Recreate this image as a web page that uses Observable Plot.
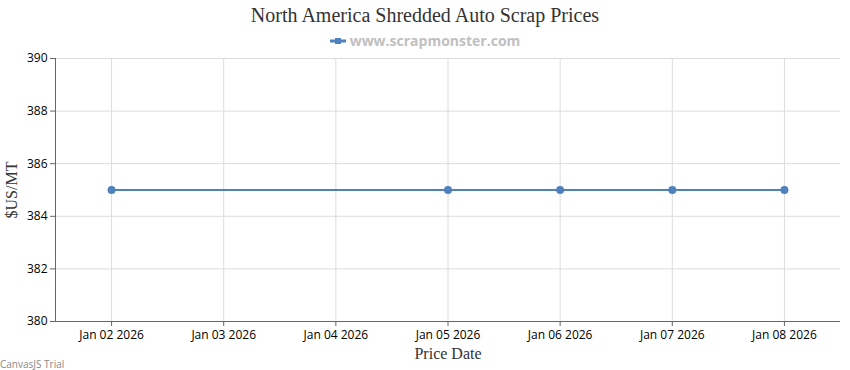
<!DOCTYPE html>
<html>
<head>
<meta charset="utf-8">
<script src="https://cdn.jsdelivr.net/npm/d3@7"></script>
<script src="https://cdn.jsdelivr.net/npm/@observablehq/plot@0.6"></script>
<style>
  html, body { margin: 0; padding: 0; background: #fff; }
  #wrap { position: relative; width: 850px; height: 370px; overflow: hidden; }
  .t { position: absolute; white-space: nowrap; }
  #title { left: 0; width: 850px; top: 4px; text-align: center; font: 20px "Liberation Serif", "Times New Roman", serif; color: #333; }
  #legend { left: 0; width: 850px; top: 31px; text-align: center; font: bold 14px "Open Sans", sans-serif; color: #c0c0c0; }
  #legend svg { vertical-align: middle; margin-right: 4px; position: relative; top: -1px; }
  #ylab { left: 12px; top: 190px; transform: translate(-50%, -50%) rotate(-90deg); font: 16px "Liberation Serif", "Times New Roman", serif; color: #333; }
  #xlab { left: 448px; top: 345px; transform: translateX(-50%); font: 16px "Liberation Serif", "Times New Roman", serif; color: #333; }
  #trial { left: 0px; top: 357px; font: 10px "Open Sans", sans-serif; color: #888; }
</style>
</head>
<body>
<div id="wrap"></div>
<script>
const dates = ["2026-01-02", "2026-01-05", "2026-01-06", "2026-01-07", "2026-01-08"];
const prices = [385, 385, 385, 385, 385];
const xTickDates = ["2026-01-02", "2026-01-03", "2026-01-04", "2026-01-05", "2026-01-06", "2026-01-07", "2026-01-08"];
const yTicks = [380, 382, 384, 386, 388, 390];
const seriesName = "www.scrapmonster.com";
const titleText = "North America Shredded Auto Scrap Prices";
const yLabel = "$US/MT";
const xLabel = "Price Date";

const parse = d3.utcParse("%Y-%m-%d");
const data = dates.map((d, i) => ({date: parse(d), price: prices[i]}));
const xt = xTickDates.map(parse);
const half = 12 * 3600 * 1000;
const xDomain = [new Date(xt[0].getTime() - half), new Date(xt[xt.length - 1].getTime() + half)];
const fmt = d3.utcFormat("%b %d %Y");
const color = "#4f81bc";

const chart = Plot.plot({
  width: 850,
  height: 370,
  marginTop: 58,
  marginBottom: 49,
  marginLeft: 55,
  marginRight: 10,
  style: {fontFamily: "'Open Sans', sans-serif", fontSize: "12px", color: "#000", background: "transparent"},
  x: {type: "utc", domain: xDomain},
  y: {domain: [380, 390]},
  marks: [
    Plot.gridX(xt, {stroke: "#dcdcdc", strokeOpacity: 1}),
    Plot.gridY(yTicks, {stroke: "#dcdcdc", strokeOpacity: 1}),
    Plot.axisY(yTicks, {tickSize: 5, tickPadding: 3, stroke: "#666", label: null, fontSize: 12}),
    Plot.axisX(xt, {tickSize: 5, tickPadding: 4, stroke: "#666", tickFormat: fmt, label: null, fontSize: 12}),
    Plot.ruleX([xDomain[0]], {stroke: "#666", strokeWidth: 1}),
    Plot.ruleY([380], {stroke: "#666", strokeWidth: 1}),
    Plot.line(data, {x: "date", y: "price", stroke: color, strokeWidth: 2}),
    Plot.dot(data, {x: "date", y: "price", fill: color, r: 4})
  ]
});

const wrap = document.getElementById("wrap");
wrap.appendChild(chart);
const add = (id, html) => { const d = document.createElement("div"); d.id = id; d.className = "t"; d.innerHTML = html; wrap.appendChild(d); return d; };
add("title", "").textContent = titleText;
const lg = add("legend", '<svg width="16" height="8"><line x1="0" y1="4" x2="16" y2="4" stroke="' + color + '" stroke-width="3"/><rect x="5" y="1" width="6" height="6" fill="' + color + '"/></svg>');
lg.appendChild(document.createTextNode(seriesName));
add("ylab", "").textContent = yLabel;
add("xlab", "").textContent = xLabel;
add("trial", "").textContent = "CanvasJS Trial";
</script>
</body>
</html>
